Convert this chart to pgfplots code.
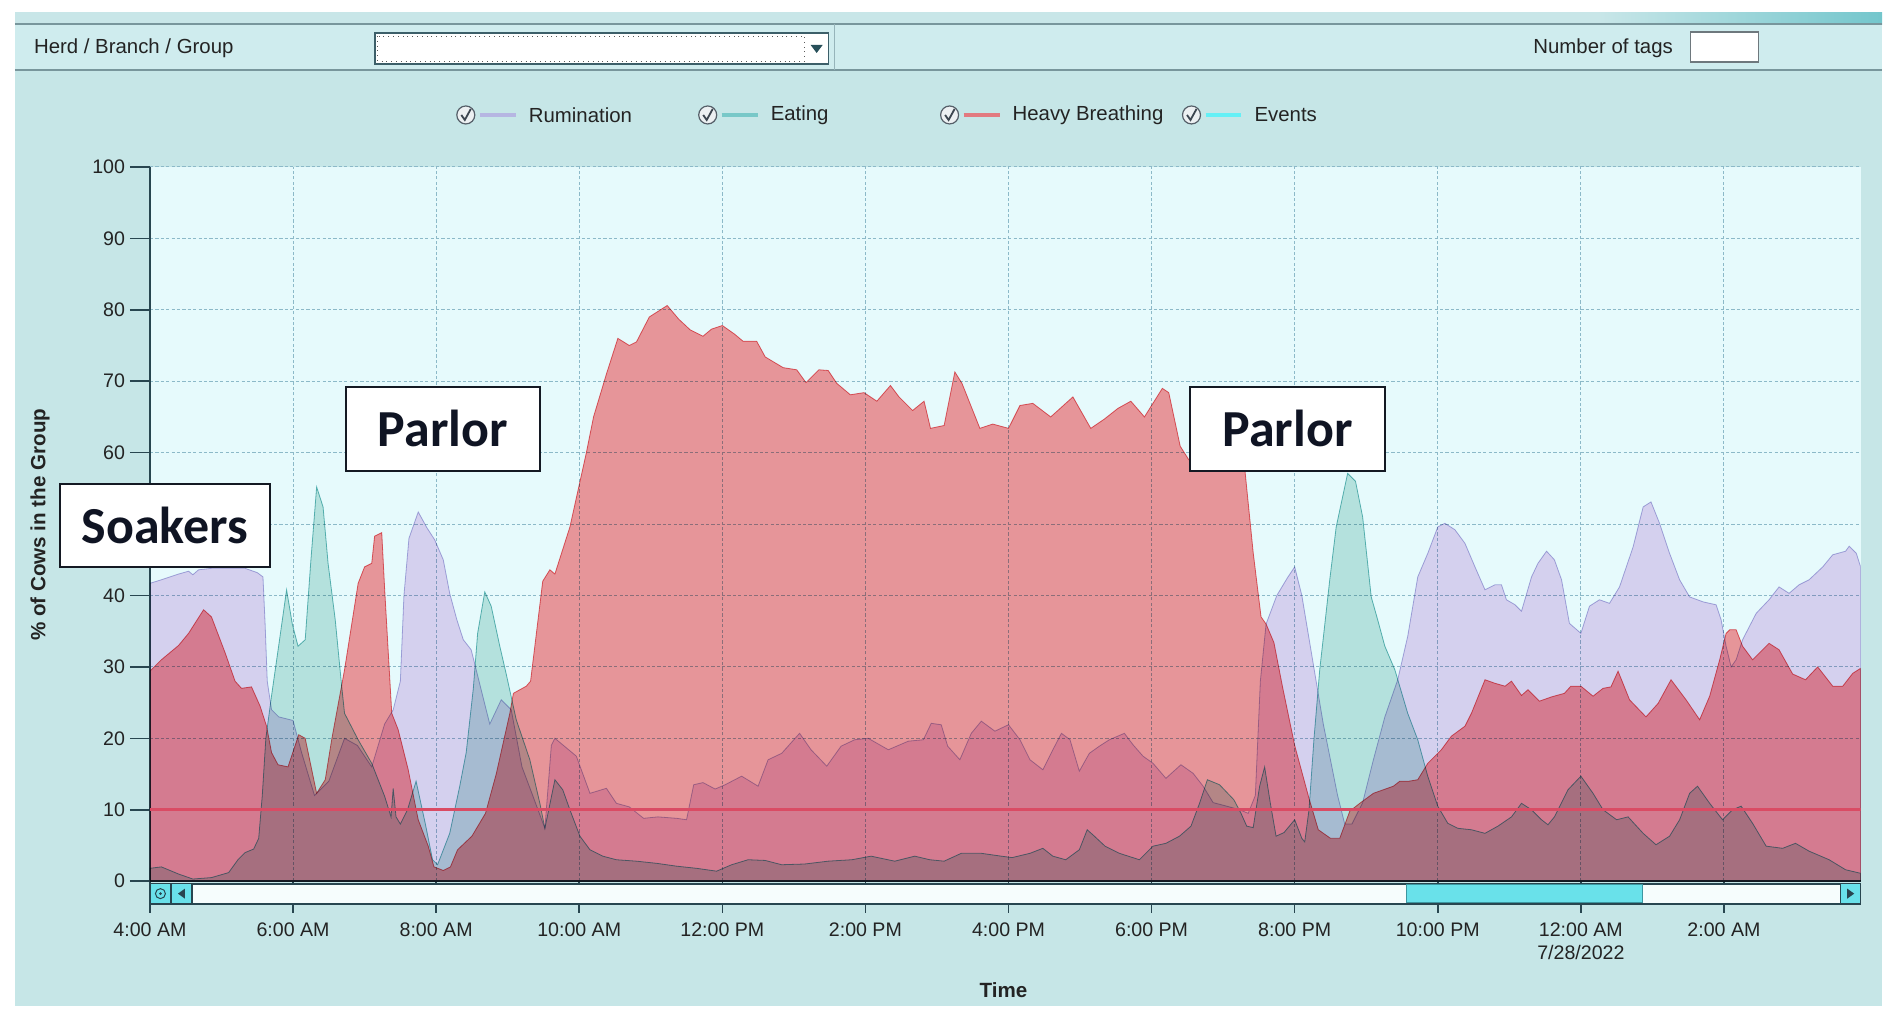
\documentclass[border=0pt]{standalone}
\usepackage{pgfplots}
\pgfplotsset{compat=1.18}
\usepackage{fontspec}
\setmainfont{Liberation Sans}
\newfontfamily\annfont{Carlito}

\definecolor{panel}{RGB}{198,230,231}
\definecolor{hdr}{RGB}{207,236,238}
\definecolor{plotbg}{RGB}{230,250,252}
\definecolor{gridc}{RGB}{140,185,200}
\definecolor{axisc}{RGB}{40,70,80}
\definecolor{labc}{RGB}{35,35,35}
\definecolor{lavf}{RGB}{236,213,241}
\definecolor{tealf}{RGB}{200,230,224}
\definecolor{redf}{RGB}{255,152,155}
\definecolor{lave}{RGB}{180,178,224}
\definecolor{teale}{RGB}{105,188,188}
\definecolor{rede}{RGB}{234,105,112}
\definecolor{thrc}{RGB}{218,75,100}
\definecolor{lavl}{RGB}{182,182,226}
\definecolor{teall}{RGB}{120,200,200}
\definecolor{redl}{RGB}{226,122,128}
\definecolor{cyanl}{RGB}{100,240,246}
\definecolor{btn}{RGB}{105,225,234}

\begin{document}
\begin{tikzpicture}[x=0.5pt,y=0.5pt]
% ---------- frame / panel ----------
\fill[white] (0,0) rectangle (1883,-1009);
\fill[panel] (15,-12) rectangle (1883,-1006);
\fill[hdr] (15,-24) rectangle (1883,-70);
\fill[color={rgb,255:red,200;green,230;blue,232}] (15,-12) rectangle (1600,-24);
\shade[left color={rgb,255:red,200;green,230;blue,232}, right color={rgb,255:red,115;green,198;blue,204}] (1600,-12) rectangle (1883,-24);
\draw[color={rgb,255:red,120;green,150;blue,156}, line width=0.8pt] (15,-24) -- (1883,-24);
\draw[color={rgb,255:red,120;green,150;blue,156}, line width=0.8pt] (15,-70) -- (1883,-70);
\draw[color={rgb,255:red,150;green,180;blue,186}, line width=0.6pt] (835,-24) -- (835,-70);
% header content
\node[anchor=west, font=\fontsize{10.2}{12}\selectfont, text=labc] at (27,-48) {Herd / Branch / Group};
\fill[white] (375,-33) rectangle (829,-64);
\draw[color={rgb,255:red,60;green,95;blue,105}, line width=0.7pt] (375,-33) rectangle (829,-64);
\draw[color={rgb,255:red,90;green,90;blue,90}, line width=0.4pt, dotted] (378,-36) rectangle (805,-61);
\fill[color={rgb,255:red,40;green,80;blue,90}] (811,-45) -- (823,-45) -- (817,-53) -- cycle;
\node[anchor=west, font=\fontsize{10.2}{12}\selectfont, text=labc] at (1527,-48) {Number of tags};
\fill[white] (1691,-32) rectangle (1759,-62);
\draw[color={rgb,255:red,110;green,120;blue,125}, line width=0.6pt] (1691,-32) rectangle (1759,-62);
% legend
\foreach \cx/\lc/\txt in {466/lavl/Rumination, 708/teall/Eating, 950/redl/Heavy Breathing, 1192/cyanl/Events}{
  \fill[color={rgb,255:red,236;green,240;blue,242}] (\cx,-115) circle (9);
  \draw[color={rgb,255:red,85;green,95;blue,105}, line width=0.6pt] (\cx,-115) circle (9);
  \draw[color={rgb,255:red,60;green,70;blue,80}, line width=0.9pt] (\cx-4.5,-115) -- (\cx-1,-120) -- (\cx+5,-109);
  \draw[\lc, line width=2.2pt] (\cx+14,-115) -- (\cx+50,-115);
  \node[anchor=west, font=\fontsize{10.2}{12}\selectfont, text=labc] at (\cx+56,-115) {\txt};
}
% ---------- chart ----------
\begin{axis}[
  at={(75pt,-440.75pt)}, anchor=south west,
  scale only axis, width=855.7pt, height=357.25pt,
  xmin=0, xmax=23.91, ymin=0, ymax=100,
  enlargelimits=false,
  axis x line*=bottom, axis y line*=left,
  axis line style={-, draw=axisc, line width=1pt},
  axis background/.style={fill=plotbg},
  xtick={0,2,...,22},
  xticklabels={4:00 AM,6:00 AM,8:00 AM,10:00 AM,12:00 PM,2:00 PM,4:00 PM,6:00 PM,8:00 PM,10:00 PM,{12:00 AM\\7/28/2022},2:00 AM},
  ytick={0,10,...,100},
  yticklabels={0,10,20,30,40,{},60,70,80,90,100},
  tick align=outside,
  xtick style={draw=axisc, line width=0.8pt, /pgfplots/major tick length=15.75pt},
  ytick style={draw=axisc, line width=0.8pt, /pgfplots/major tick length=10pt},
  xticklabel style={align=center, font=\fontsize{9.8}{11.5}\selectfont, text=labc, inner sep=2pt, yshift=-14.5pt},
  yticklabel style={font=\fontsize{9.8}{12}\selectfont, text=labc, inner sep=2pt, xshift=-6pt},
  /pgf/number format/assume math mode=true,
  grid=major,
  grid style={color=gridc, line width=0.5pt, dash pattern=on 1.6pt off 1.1pt},
]
% Rumination
\addplot[fill=lavf, draw=lave, line width=0.4pt, blend mode=multiply] coordinates {
(0,41.7)(0.16,42.2)(0.4,43)(0.54,43.4)(0.6,42.9)(0.68,43.6)(0.86,43.8)(1.1,43.8)(1.33,43.8)(1.5,43.2)(1.58,42.6)(1.61,36)(1.64,28)(1.7,24)(1.8,23)(2.0,22.5)(2.12,18)(2.3,12)(2.5,14)(2.72,20)(2.9,19)(3.1,16)(3.28,22)(3.4,24)(3.5,28)(3.55,40)(3.62,48)(3.75,51.7)(3.87,49.5)(3.98,47.8)(4.1,45)(4.19,40.3)(4.29,36.6)(4.38,33.8)(4.49,32.4)(4.55,30)(4.75,22)(4.91,25.4)(5.05,24)(5.2,16)(5.35,12)(5.52,7.4)(5.61,19)(5.66,20)(5.84,18.5)(5.96,17.5)(6.15,12.3)(6.38,13)(6.52,10.9)(6.7,10.4)(6.9,8.8)(7.1,9)(7.36,8.8)(7.5,8.6)(7.6,13.5)(7.73,13.8)(7.9,12.9)(8.04,13.5)(8.27,14.7)(8.5,13.3)(8.64,17)(8.83,17.9)(9.08,20.7)(9.24,18.4)(9.46,16.1)(9.66,18.9)(9.85,19.8)(10.04,20)(10.32,18.4)(10.6,19.6)(10.81,19.8)(10.92,22.1)(11.06,21.9)(11.15,18.9)(11.32,17)(11.48,20.7)(11.62,22.4)(11.81,21)(12.0,21.9)(12.16,19.8)(12.3,17)(12.48,15.6)(12.62,18.4)(12.74,20.7)(12.86,19.8)(12.99,15.4)(13.13,17.9)(13.27,18.9)(13.41,19.8)(13.62,20.7)(13.74,19.1)(13.88,17.5)(14.02,16.5)(14.2,14.4)(14.41,16.3)(14.58,15.1)(14.72,13.3)(14.86,11)(15.05,10.5)(15.23,10)(15.35,9.5)(15.45,12)(15.52,28)(15.6,36)(15.75,40)(15.9,42.5)(16.0,44)(16.1,40)(16.2,34)(16.3,28)(16.4,22)(16.5,17)(16.6,12)(16.7,8)(16.8,8)(16.95,11)(17.1,17)(17.26,23)(17.44,28.2)(17.58,34.3)(17.72,42.6)(17.86,45.9)(18.0,49.6)(18.1,50.1)(18.24,49.2)(18.38,47.3)(18.52,44)(18.66,40.8)(18.8,41.5)(18.89,41.5)(18.96,39.4)(19.08,38.7)(19.17,37.8)(19.31,42.6)(19.4,44.5)(19.52,46.2)(19.63,45)(19.73,42.2)(19.84,36.1)(20.0,34.7)(20.12,38.5)(20.26,39.4)(20.4,38.9)(20.54,41.2)(20.73,46.8)(20.87,52.4)(20.98,53.1)(21.1,50.1)(21.24,45.9)(21.38,42.2)(21.52,39.8)(21.71,39.1)(21.89,38.7)(21.96,36.6)(22.03,32.9)(22.1,30)(22.17,31)(22.26,33.8)(22.45,37.5)(22.63,39.4)(22.77,41.2)(22.91,40.3)(23.05,41.5)(23.19,42.2)(23.38,44)(23.52,45.7)(23.7,46.2)(23.75,46.9)(23.85,45.9)(23.91,44)
} \closedcycle;
% Eating
\addplot[fill=tealf, draw=teale, line width=0.4pt, blend mode=multiply] coordinates {
(0,1.8)(0.16,2)(0.4,1)(0.6,0.3)(0.86,0.5)(1.1,1.2)(1.23,3)(1.33,4)(1.45,4.5)(1.52,6)(1.57,12)(1.62,20)(1.7,26)(1.8,33)(1.91,40.8)(1.99,36)(2.07,32.9)(2.17,33.8)(2.25,45)(2.33,55.2)(2.42,52.4)(2.49,44.5)(2.59,36.6)(2.68,27.3)(2.72,23.5)(2.91,19.8)(3.1,16.5)(3.28,11.9)(3.37,9)(3.40,13)(3.44,9)(3.5,8)(3.6,10)(3.72,14)(3.85,8)(3.95,3)(4.02,2.3)(4.19,6.7)(4.33,13.3)(4.42,18)(4.52,27)(4.58,34.7)(4.68,40.5)(4.77,38.5)(4.89,32.9)(4.98,29)(5.05,25.8)(5.12,22.6)(5.31,17)(5.45,10.9)(5.52,7.4)(5.66,14.2)(5.77,12.8)(5.87,10)(6.01,6.3)(6.15,4.4)(6.33,3.5)(6.52,3)(6.8,2.8)(7.08,2.5)(7.36,2.1)(7.64,1.8)(7.92,1.4)(8.13,2.3)(8.36,3)(8.6,2.9)(8.83,2.3)(9.15,2.4)(9.48,2.8)(9.81,3)(10.08,3.5)(10.41,2.8)(10.69,3.5)(10.9,3)(11.1,2.8)(11.34,3.9)(11.62,3.9)(11.9,3.5)(12.05,3.3)(12.3,3.9)(12.48,4.6)(12.62,3.5)(12.8,3)(12.99,4.4)(13.1,7.2)(13.2,6.3)(13.35,4.9)(13.55,3.9)(13.83,3)(14.02,4.9)(14.2,5.3)(14.39,6.3)(14.55,7.7)(14.67,10.9)(14.78,14.2)(14.95,13.5)(15.15,11.4)(15.25,9.5)(15.33,7.7)(15.42,7.5)(15.51,13.3)(15.58,16)(15.66,10.9)(15.74,6.3)(15.85,6.8)(16.0,8.6)(16.1,6)(16.14,5.5)(16.2,10)(16.27,20)(16.35,29.6)(16.49,42.2)(16.58,49.6)(16.74,57.1)(16.85,56)(16.95,51)(17.07,39.8)(17.16,36.6)(17.26,32.9)(17.4,29.6)(17.58,23.5)(17.72,19.8)(17.86,14.7)(18.0,10.5)(18.14,8.1)(18.28,7.4)(18.47,7.2)(18.66,6.7)(18.84,7.7)(19.03,9)(19.17,10.9)(19.31,10)(19.45,8.6)(19.54,7.9)(19.63,9)(19.82,12.8)(20.0,14.7)(20.17,12.3)(20.31,10)(20.5,8.6)(20.66,9)(20.87,6.7)(21.05,5.1)(21.24,6.3)(21.38,8.6)(21.52,12.3)(21.63,13.3)(21.8,10.9)(21.98,8.6)(22.12,10)(22.24,10.5)(22.4,8.1)(22.59,4.9)(22.82,4.6)(23.0,5.3)(23.19,4.2)(23.47,3)(23.7,1.6)(23.91,1.1)
} \closedcycle;
% Heavy Breathing
\addplot[fill=redf, draw=rede, line width=0.4pt, blend mode=multiply] coordinates {
(0,29.4)(0.16,31)(0.4,33)(0.54,34.7)(0.75,38)(0.86,37)(1.05,32)(1.19,28)(1.28,27)(1.42,27.2)(1.54,24.5)(1.63,21.7)(1.7,18)(1.79,16.3)(1.93,16)(2.08,20.5)(2.17,20)(2.33,12.3)(2.45,14.2)(2.54,19.8)(2.72,29.6)(2.91,41.7)(3.0,44)(3.1,44.5)(3.14,48.3)(3.24,48.8)(3.28,41)(3.38,23.5)(3.47,21.2)(3.61,15.6)(3.75,8.6)(3.89,4.9)(3.97,2)(4.1,1.5)(4.2,2)(4.3,4.4)(4.5,6.3)(4.69,9.5)(4.84,15)(5.03,23.5)(5.08,26.3)(5.26,27.3)(5.32,28)(5.49,42)(5.59,43.6)(5.66,43)(5.87,49.6)(6.1,60)(6.2,65)(6.38,71)(6.54,76)(6.7,75)(6.8,75.5)(6.98,79)(7.23,80.6)(7.39,78.7)(7.55,77.2)(7.73,76.3)(7.85,77.3)(8.0,77.8)(8.17,76.6)(8.29,75.6)(8.48,75.6)(8.6,73.4)(8.85,71.9)(9.04,71.6)(9.17,69.8)(9.35,71.6)(9.48,71.5)(9.6,69.7)(9.79,68.1)(9.98,68.4)(10.16,67.2)(10.35,69.4)(10.47,67.8)(10.66,65.9)(10.82,67.2)(10.91,63.4)(11.1,63.8)(11.25,71.3)(11.35,69.7)(11.6,63.4)(11.78,64)(12.0,63.4)(12.16,66.6)(12.34,66.9)(12.59,65)(12.9,67.8)(13.15,63.4)(13.34,64.7)(13.53,66.2)(13.71,67.2)(13.9,65)(14.15,69)(14.24,68.4)(14.4,60.9)(14.52,59)(14.8,58.5)(15.0,59)(15.3,58)(15.42,46)(15.53,37)(15.6,36)(15.71,33.4)(15.83,27.2)(16.0,19)(16.2,11.6)(16.33,7.2)(16.5,6)(16.63,6)(16.77,9.8)(16.91,10.9)(17.1,12.3)(17.24,12.8)(17.38,13.3)(17.47,14)(17.6,14)(17.72,14.2)(17.86,16.5)(18.05,18.4)(18.19,20.3)(18.38,21.7)(18.47,23.5)(18.66,28.2)(18.8,27.7)(18.94,27.3)(19.03,28)(19.17,26)(19.26,26.8)(19.42,25.2)(19.59,25.8)(19.77,26.3)(19.86,27.3)(20.0,27.3)(20.17,25.9)(20.31,27)(20.42,27.2)(20.52,29.4)(20.68,25.4)(20.91,23)(21.08,24.9)(21.26,28.2)(21.47,25.4)(21.66,22.6)(21.8,25.9)(21.94,31)(22.03,34.7)(22.08,35.2)(22.17,35.2)(22.26,32.9)(22.4,31)(22.63,33.3)(22.77,32.4)(22.96,29)(23.14,28.2)(23.31,30)(23.52,27.3)(23.66,27.3)(23.8,29.1)(23.91,29.8)
} \closedcycle;
% threshold line
\addplot[draw=thrc, line width=1.3pt] coordinates {(0,10) (23.91,10)};
\end{axis}
% ---------- scrollbar ----------
\fill[color={rgb,255:red,246;green,253;blue,253}] (150,-884) rectangle (1861,-904);
\draw[axisc, line width=0.9pt] (150,-884) rectangle (1861,-904);
\fill[btn] (150,-884) rectangle (171,-904);
\draw[axisc, line width=0.7pt] (150,-884) rectangle (171,-904);
\draw[axisc, line width=0.5pt] (160.5,-894) circle (5);
\fill[axisc] (160.5,-894) circle (1.5);
\fill[btn] (171,-884) rectangle (192,-904);
\draw[axisc, line width=0.7pt] (171,-884) rectangle (192,-904);
\fill[axisc] (178,-894) -- (185,-889) -- (185,-899) -- cycle;
\fill[btn] (1407,-885) rectangle (1643,-903);
\draw[color={rgb,255:red,60;green,150;blue,160}, line width=0.6pt] (1407,-885) rectangle (1643,-903);
\fill[btn] (1841,-884) rectangle (1861,-904);
\draw[axisc, line width=0.7pt] (1841,-884) rectangle (1861,-904);
\fill[axisc] (1855,-894) -- (1848,-889) -- (1848,-899) -- cycle;
% ---------- axis titles ----------
\node[rotate=90, font=\bfseries\fontsize{10.3}{12}\selectfont, text=labc] at (40,-525) {\% of Cows in the Group};
\node[font=\bfseries\fontsize{10.3}{12}\selectfont, text=labc] at (1004,-991) {Time};
% ---------- annotation boxes ----------
\foreach \xa/\ya/\xb/\yb/\txt in {60/484/270/567/Soakers, 346/387/540/471/Parlor, 1190/387/1386/471/Parlor}{
  \fill[white] (\xa,-\ya) rectangle (\xb,-\yb);
  \draw[color={rgb,255:red,20;green,25;blue,35}, line width=1pt] (\xa,-\ya) rectangle (\xb,-\yb);
  \node[font=\annfont\bfseries\fontsize{26}{30}\selectfont, text={rgb,255:red,15;green,20;blue,35}] at ({(\xa+\xb)/2},{-(\ya+\yb)/2}) {\txt};
}
\end{tikzpicture}
\end{document}
